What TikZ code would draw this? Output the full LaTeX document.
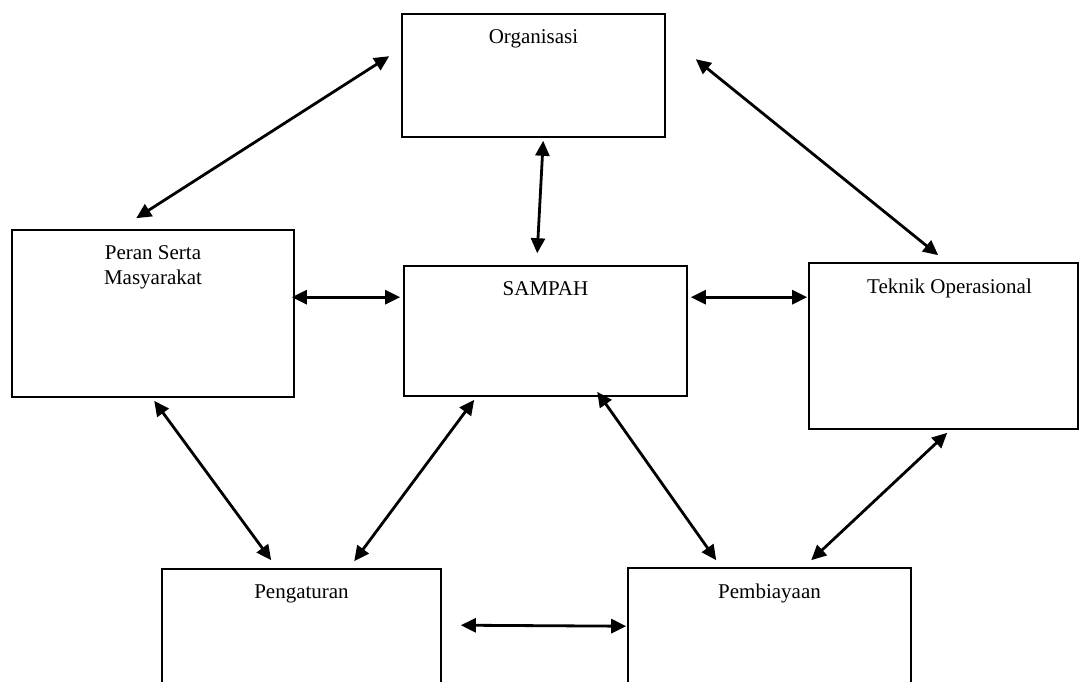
\documentclass[tikz,border=0pt]{standalone}
\usepackage{fontspec}
\setmainfont{Liberation Serif}
\usetikzlibrary{calc,arrows.meta}
\begin{document}
\begin{tikzpicture}[x=1pt,y=-1pt,
  box/.style={draw=black,line width=1.6pt,fill=white,inner sep=0pt},
  lbl/.style={anchor=base,inner sep=0pt,font=\fontsize{21}{25}\selectfont,align=center},
  dbl/.style={{Triangle[length=15pt,width=14pt]}-{Triangle[length=15pt,width=14pt]},line width=2.8pt}]
\useasboundingbox (0,0) rectangle (1081,681);
\clip (0,0) rectangle (1081,681);
\node[box,minimum width=263pt,minimum height=123pt] (org) at (533.5,75.5) {};
\node[box,minimum width=282pt,minimum height=167pt] (peran) at (153,313.5) {};
\node[box,minimum width=283pt,minimum height=130pt] (sampah) at (545.5,331) {};
\node[box,minimum width=269pt,minimum height=166pt] (teknik) at (943.5,346) {};
\node[box,minimum width=279pt,minimum height=160pt] (peng) at (301.5,649) {};
\node[box,minimum width=283pt,minimum height=160pt] (pemb) at (769.5,648) {};
\node[lbl] (torg) at ($(org.north)+(0,30)$) {Organisasi};
\node[lbl] (tperan) at ($(peran.north)+(0,55)$) {Peran Serta\\Masyarakat};
\node[lbl] (tsampah) at ($(sampah.north)+(0,30)$) {SAMPAH};
\node[lbl] (tteknik) at ($(teknik.north)+(6,31)$) {Teknik Operasional};
\node[lbl] (tpeng) at ($(peng.north)+(0,30)$) {Pengaturan};
\node[lbl] (tpemb) at ($(pemb.north)+(0,31)$) {Pembiayaan};
\draw[dbl] ($(org.north west)+(-12,43)$) -- ($(peran.north west)+(125,-11)$);
\draw[dbl] ($(org.south west)+(142,3)$) -- ($(sampah.north west)+(134,-12)$);
\draw[dbl] ($(org.north east)+(30,46)$) -- ($(teknik.north west)+(130,-7)$);
\draw[dbl] ($(peran.north east)+(-3,68)$) -- ($(sampah.north west)+(-3,32)$);
\draw[dbl] ($(sampah.north east)+(3,32)$) -- ($(teknik.north west)+(-1,35)$);
\draw[dbl] ($(peran.south west)+(143,3)$) -- ($(peng.north west)+(110,-8)$);
\draw[dbl] ($(sampah.south west)+(71,3)$) -- ($(peng.north west)+(193,-7)$);
\draw[dbl] ($(sampah.south west)+(194,-5)$) -- ($(pemb.north west)+(89,-7)$);
\draw[dbl] ($(teknik.south west)+(139,3)$) -- ($(pemb.north west)+(184,-7)$);
\draw[dbl] ($(peng.north east)+(19,57)$) -- ($(pemb.north west)+(-1,59)$);
\end{tikzpicture}
\end{document}
